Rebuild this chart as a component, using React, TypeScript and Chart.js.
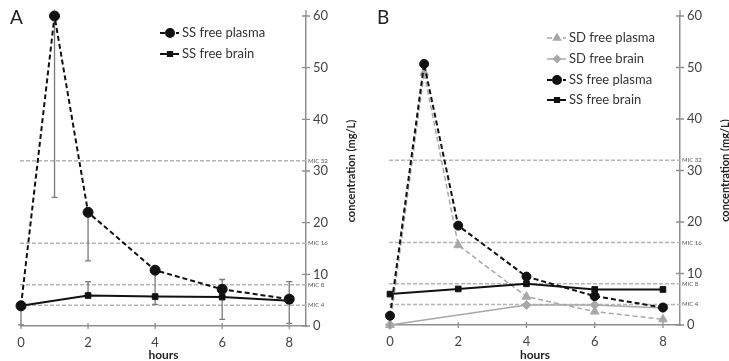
import React, { useEffect, useRef } from 'react';
import { Chart, registerables } from 'chart.js';
import { drawPoint } from 'chart.js/helpers';
Chart.register(...registerables);

// ---------- data ----------
const xTickValues = [0, 2, 4, 6, 8];
const yTickStep = 10;
const micLevels = [32, 16, 8, 4];
const micLabels = ['MIC 32', 'MIC 16', 'MIC 8', 'MIC 4'];

// Panel A
const hoursAPlasma = [0, 1, 2, 4, 6, 8];
const ssPlasmaA = [3.9, 60, 22, 10.8, 7.1, 5.2];
const ssPlasmaAErrLow = [null, 24.9, 12.6, 4.2, null, null];
const ssPlasmaAErrHigh = [null, null, null, null, null, null];
const hoursABrain = [0, 2, 4, 6, 8];
const ssBrainA = [3.9, 5.9, 5.7, 5.6, 4.9];
const ssBrainAErrLow = [0.2, null, null, 1.3, 0.5];
const ssBrainAErrHigh = [null, 8.6, null, 9.0, 8.6];

// Panel B
const hoursBPlasma = [0, 1, 2, 4, 6, 8];
const ssPlasmaB = [1.8, 50.7, 19.3, 9.4, 5.6, 3.4];
const sdPlasmaB = [0, 49, 15.5, 5.5, 2.6, 1.1];
const hoursBBrain = [0, 2, 4, 6, 8];
const ssBrainB = [6.0, 7.0, 8.0, 6.9, 6.9];
const hoursBSdBrain = [0, 4, 6, 8];
const sdBrainB = [0, 3.9, 3.9, 3.3];

const legendLabelsA = ['SS free plasma', 'SS free brain'];
const legendLabelsB = ['SD free plasma', 'SD free brain', 'SS free plasma', 'SS free brain'];

// ---------- styles ----------
const BLACK = '#111111';
const GRAY = '#a8a8a8';
const AXIS = '#8f8f8f';
const FONT = 'Lato, "Open Sans", sans-serif';

const styleSSPlasma = { color: BLACK, width: 2, dash: [5, 3], point: 'circle', r: 5 };
const styleSSBrain = { color: BLACK, width: 2, dash: [], point: 'rect', r: 4 };
const styleSDPlasma = { color: GRAY, width: 1.5, dash: [5, 3], point: 'triangle', r: 5 };
const styleSDBrain = { color: GRAY, width: 1.5, dash: [], point: 'rectRot', r: 4.5 };

function pts(xs: number[], ys: (number | null)[]) {
  return xs.map((x, i) => ({ x, y: ys[i] }));
}

function ds(label: string, data: any[], st: any, errLow?: any[], errHigh?: any[]) {
  return {
    label,
    data,
    borderColor: st.color,
    borderWidth: st.width,
    borderDash: st.dash,
    pointStyle: st.point,
    pointRadius: st.r,
    pointBackgroundColor: st.color,
    pointBorderColor: st.color,
    pointBorderWidth: 1,
    tension: 0,
    spanGaps: true,
    clip: false,
    errLow,
    errHigh,
    styleRef: st,
  };
}

type PanelCfg = {
  letter: string;
  width: number;
  padLeft: number;
  yWidth: number;
  xHeight: number;
  legendX: number;
  legendYs: number[];
  legendStyles: any[];
  legendLabels: string[];
  datasets: any[];
};

const panels: PanelCfg[] = [
  {
    letter: 'A',
    width: 365,
    padLeft: 21,
    yWidth: 59,
    xHeight: 35,
    legendX: 160,
    legendYs: [33, 54],
    legendStyles: [styleSSPlasma, styleSSBrain],
    legendLabels: legendLabelsA,
    datasets: [
      ds('SS free plasma', pts(hoursAPlasma, ssPlasmaA), styleSSPlasma, ssPlasmaAErrLow, ssPlasmaAErrHigh),
      ds('SS free brain', pts(hoursABrain, ssBrainA), styleSSBrain, ssBrainAErrLow, ssBrainAErrHigh),
    ],
  },
  {
    letter: 'B',
    width: 364,
    padLeft: 25,
    yWidth: 49,
    xHeight: 36,
    legendX: 182,
    legendYs: [38, 59, 80, 100],
    legendStyles: [styleSDPlasma, styleSDBrain, styleSSPlasma, styleSSBrain],
    legendLabels: legendLabelsB,
    datasets: [
      ds('SS free plasma', pts(hoursBPlasma, ssPlasmaB), { ...styleSSPlasma, r: 4.5 }),
      ds('SS free brain', pts(hoursBBrain, ssBrainB), styleSSBrain),
      ds('SD free plasma', pts(hoursBPlasma, sdPlasmaB), styleSDPlasma),
      ds('SD free brain', pts(hoursBSdBrain, sdBrainB), styleSDBrain),
    ],
  },
];

function makePlugin(p: PanelCfg) {
  return {
    id: 'panelExtras' + p.letter,
    beforeDatasetsDraw(chart: any) {
      const { ctx, chartArea } = chart;
      const y = chart.scales.y;
      const x = chart.scales.x;
      ctx.save();
      // MIC reference lines
      micLevels.forEach((v, i) => {
        const py = y.getPixelForValue(v);
        ctx.strokeStyle = '#b5b5b5';
        ctx.lineWidth = 1.5;
        ctx.setLineDash([4, 2]);
        ctx.beginPath();
        ctx.moveTo(chartArea.left - 1, py);
        ctx.lineTo(chartArea.right, py);
        ctx.stroke();
        ctx.setLineDash([]);
        ctx.fillStyle = '#555';
        ctx.font = '6px ' + FONT;
        ctx.textAlign = 'left';
        ctx.textBaseline = 'middle';
        ctx.fillText(micLabels[i], chartArea.right + 2, py);
      });
      // error bars
      chart.data.datasets.forEach((d: any) => {
        if (!d.errLow && !d.errHigh) return;
        d.data.forEach((pt: any, i: number) => {
          const lo = d.errLow ? d.errLow[i] : null;
          const hi = d.errHigh ? d.errHigh[i] : null;
          if (lo == null && hi == null) return;
          const px = x.getPixelForValue(pt.x);
          const from = y.getPixelForValue(lo == null ? pt.y : lo);
          const to = y.getPixelForValue(hi == null ? pt.y : hi);
          ctx.strokeStyle = '#7a7a7a';
          ctx.lineWidth = 1.3;
          ctx.beginPath();
          ctx.moveTo(px, from);
          ctx.lineTo(px, to);
          if (lo != null) {
            ctx.moveTo(px - 3, from);
            ctx.lineTo(px + 3, from);
          }
          if (hi != null) {
            ctx.moveTo(px - 3, to);
            ctx.lineTo(px + 3, to);
          }
          ctx.stroke();
        });
      });
      ctx.restore();
    },
    afterDraw(chart: any) {
      const { ctx, chartArea } = chart;
      const y = chart.scales.y;
      const x = chart.scales.x;
      ctx.save();
      // crossing tick marks
      ctx.strokeStyle = AXIS;
      ctx.lineWidth = 1.3;
      ctx.beginPath();
      y.ticks.forEach((t: any) => {
        const py = y.getPixelForValue(t.value);
        ctx.moveTo(chartArea.right - 4, py);
        ctx.lineTo(chartArea.right + 4, py);
      });
      x.ticks.forEach((t: any) => {
        const px = x.getPixelForValue(t.value);
        ctx.moveTo(px, chartArea.bottom - 3);
        ctx.lineTo(px, chartArea.bottom + 3);
      });
      // small extension of y axis above top tick
      ctx.moveTo(chartArea.right, chartArea.top);
      ctx.lineTo(chartArea.right, chartArea.top - 6);
      ctx.stroke();

      // y axis title (bottom-to-top)
      ctx.save();
      ctx.translate(chartArea.right + 45, (chartArea.top + chartArea.bottom) / 2);
      ctx.rotate(-Math.PI / 2);
      ctx.fillStyle = '#222';
      ctx.font = 'bold 11px ' + FONT;
      ctx.textAlign = 'center';
      ctx.textBaseline = 'middle';
      ctx.fillText('concentration (mg/L)', 0, 0);
      ctx.restore();

      // panel letter
      ctx.fillStyle = '#222';
      ctx.font = '19px ' + FONT;
      ctx.textAlign = 'left';
      ctx.textBaseline = 'top';
      ctx.fillText(p.letter, p.letter === 'A' ? 10 : 12, 8);

      // legend
      p.legendLabels.forEach((lab, i) => {
        const st = p.legendStyles[i];
        const ly = p.legendYs[i];
        ctx.strokeStyle = st.color;
        ctx.lineWidth = st.width;
        ctx.setLineDash(st.dash);
        ctx.beginPath();
        ctx.moveTo(p.legendX, ly);
        ctx.lineTo(p.legendX + 19, ly);
        ctx.stroke();
        ctx.setLineDash([]);
        ctx.fillStyle = st.color;
        ctx.strokeStyle = st.color;
        drawPoint(ctx, { pointStyle: st.point, radius: st.r - 1, rotation: 0, borderWidth: 1 }, p.legendX + 10, ly);
        ctx.fillStyle = '#333';
        ctx.font = '13px ' + FONT;
        ctx.textAlign = 'left';
        ctx.textBaseline = 'middle';
        ctx.fillText(lab, p.legendX + 22, ly);
      });
      ctx.restore();
    },
  };
}

function Panel({ p, left }: { p: PanelCfg; left: number }) {
  const ref = useRef<HTMLCanvasElement>(null);
  useEffect(() => {
    const canvas = ref.current!;
    const chart = new Chart(canvas, {
      type: 'line',
      data: { datasets: p.datasets } as any,
      options: {
        responsive: false,
        animation: false,
        devicePixelRatio: 1,
        layout: { padding: { left: p.padLeft, top: 16, right: 0, bottom: 0 } },
        plugins: { legend: { display: false }, tooltip: { enabled: false } },
        scales: {
          x: {
            type: 'linear',
            min: 0,
            max: 8.5,
            position: 'bottom',
            afterFit: (s: any) => { s.height = p.xHeight; },
            afterBuildTicks: (s: any) => { s.ticks = xTickValues.map((v) => ({ value: v })); },
            grid: { display: true, drawOnChartArea: false, drawTicks: false },
            border: { color: AXIS, width: 1.5 },
            ticks: { padding: 9, color: '#444', font: { family: FONT, size: 13 } },
            title: {
              display: true,
              text: 'hours',
              color: '#222',
              padding: 0,
              font: { family: FONT, size: 12, weight: 'bold', lineHeight: 1 },
            },
          },
          y: {
            type: 'linear',
            position: 'right',
            min: 0,
            max: 60,
            afterFit: (s: any) => { s.width = p.yWidth; },
            grid: { display: true, drawOnChartArea: false, drawTicks: false },
            border: { color: AXIS, width: 1.5 },
            ticks: { stepSize: yTickStep, padding: 7, color: '#444', font: { family: FONT, size: 13 } },
          },
        },
      } as any,
      plugins: [makePlugin(p)],
    });
    return () => chart.destroy();
  }, []);
  return (
    <canvas
      ref={ref}
      width={p.width}
      height={361}
      style={{ position: 'absolute', left, top: 0, width: p.width, height: 361 }}
    />
  );
}

export default function App() {
  return (
    <div style={{ position: 'fixed', left: 0, top: 0, width: 729, height: 361, background: '#fff' }}>
      <Panel p={panels[0]} left={0} />
      <Panel p={panels[1]} left={365} />
    </div>
  );
}
